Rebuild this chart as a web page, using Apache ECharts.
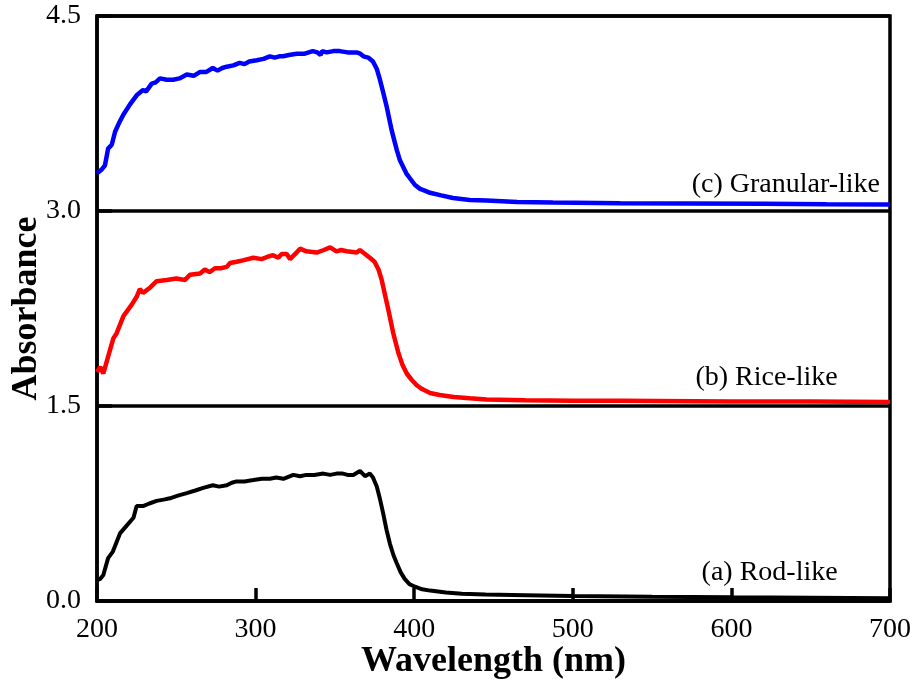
<!DOCTYPE html>
<html>
<head>
<meta charset="utf-8">
<script src="https://cdn.jsdelivr.net/npm/echarts@6/dist/echarts.min.js"></script>
<style>
	html, body { margin: 0; padding: 0; background: #fff; }
	#chart { width: 922px; height: 688px; }
</style>
</head>
<body>
<div id="chart"></div>
<script>
/* (a) Rod-like, plotted as is */
const rodLike = [
	[200, 0.16], [202, 0.17], [204, 0.20], [207, 0.33], [210, 0.38], [214.5, 0.52], [218.7, 0.58], [223, 0.64],
	[225, 0.73], [229, 0.73], [233, 0.75], [237.6, 0.77], [242, 0.78], [246, 0.79], [251, 0.81], [256.6, 0.83],
	[262, 0.85], [267, 0.87], [273, 0.89], [277, 0.88], [281.8, 0.89], [285, 0.91], [288, 0.92], [293, 0.92],
	[298.6, 0.93], [304, 0.94], [309, 0.94], [313, 0.95], [317.5, 0.94], [323.8, 0.97], [328, 0.96], [332, 0.97],
	[337, 0.97], [342.7, 0.98], [347, 0.97], [351, 0.98], [355, 0.98], [358, 0.97], [361.6, 0.97], [365.8, 1.00],
	[369, 0.96], [372, 0.98], [374, 0.95], [376.4, 0.88], [378.5, 0.78], [380.5, 0.67], [382.5, 0.55], [384.7, 0.44],
	[387, 0.35], [389, 0.29], [391.5, 0.22], [394, 0.17], [397, 0.13], [400.5, 0.11], [405, 0.09], [410, 0.08],
	[420, 0.065], [430, 0.055], [445, 0.05], [470, 0.045], [500, 0.038], [550, 0.032], [600, 0.028], [650, 0.025],
	[700, 0.022]
];
/* (b) Rice-like, shifted up by 1.5 in the figure */
const riceLike = [
	[200, 1.76], [202, 1.80], [204, 1.75], [207, 1.88], [210.3, 2.02], [212.4, 2.06], [216.6, 2.19], [221.9, 2.28],
	[225, 2.34], [227, 2.40], [229, 2.37], [233.4, 2.41], [237.6, 2.46], [244, 2.47], [250, 2.48], [255.5, 2.47],
	[258.6, 2.51], [265, 2.52], [268, 2.55], [271, 2.53], [274.4, 2.56], [278, 2.56], [281.8, 2.57], [283.9, 2.60],
	[288, 2.61], [292, 2.62], [298.6, 2.64], [303.8, 2.63], [308, 2.65], [311, 2.66], [314.3, 2.64], [316.5, 2.67],
	[319.6, 2.67], [321.7, 2.63], [325, 2.67], [328, 2.71], [332, 2.69], [338.5, 2.68], [343, 2.70], [347, 2.72],
	[351, 2.69], [354, 2.70], [357.4, 2.69], [363.7, 2.68], [365.8, 2.70], [370, 2.66], [373, 2.63], [375, 2.61],
	[377.5, 2.55], [379.5, 2.47], [381.5, 2.36], [383.7, 2.24], [386.8, 2.06], [390, 1.91], [392.5, 1.82], [395.3, 1.75],
	[398.5, 1.70], [401.6, 1.66], [405, 1.63], [410, 1.60], [416, 1.585], [425, 1.57], [435, 1.56], [445.7, 1.55],
	[470, 1.545], [500, 1.54], [530, 1.54], [600, 1.535], [650, 1.535], [700, 1.53]
];
/* (c) Granular-like, shifted up by 3.0 in the figure */
const granularLike = [
	[200, 3.29], [203, 3.32], [205, 3.35], [207, 3.48], [209.3, 3.51], [211.4, 3.61], [214, 3.68], [216.6, 3.74],
	[220.8, 3.82], [225, 3.89], [229, 3.93], [231, 3.92], [234.5, 3.98], [237, 3.99], [239.7, 4.02], [244, 4.01],
	[248, 4.01], [252, 4.02], [256.6, 4.05], [261, 4.04], [265, 4.07], [269, 4.07], [273, 4.10], [276, 4.08],
	[279, 4.10], [281.8, 4.11], [286, 4.12], [290, 4.14], [293, 4.13], [296, 4.15], [300.7, 4.16], [305, 4.17],
	[309, 4.19], [312, 4.18], [315, 4.19], [317.5, 4.19], [321, 4.20], [326, 4.21], [331, 4.21], [336, 4.23],
	[339, 4.22], [341, 4.20], [342, 4.23], [344.8, 4.22], [349, 4.23], [353, 4.23], [358, 4.22], [363.7, 4.22],
	[366, 4.21], [368, 4.19], [371, 4.18], [374, 4.15], [376.5, 4.09], [378.4, 4.01], [380.5, 3.91], [382.7, 3.80],
	[385.8, 3.62], [389, 3.47], [391, 3.39], [393, 3.34], [395, 3.29], [397.4, 3.25], [400.5, 3.20], [403.7, 3.17],
	[407, 3.155], [410, 3.14], [417, 3.12], [424.5, 3.10], [435, 3.085], [445.7, 3.08], [465, 3.07], [487.5, 3.065],
	[530, 3.06], [571.8, 3.058], [620, 3.055], [660, 3.052], [700, 3.05]
];
/* 曲线名称及标注位置 */
const curveNames = ['(a) Rod-like', '(b) Rice-like', '(c) Granular-like'];
const curveColors = ['#000000', '#ff0000', '#0000ff'];
const labelCoords = [[667, 0.22], [667, 1.715], [693.7, 3.2]];
const xTicks = [200, 700, 100];
const yTicks = [0, 4.5, 1.5];

const FONT = "'Liberation Serif', 'Times New Roman', serif";
const chart = echarts.init(document.getElementById('chart'));
const curves = [rodLike, riceLike, granularLike];

chart.setOption({
	animation: false,
	grid: {
		left: 97,
		right: 32,
		top: 16,
		bottom: 87,
		outerBoundsMode: 'none',
		containLabel: false,
		show: true,
		borderColor: '#000',
		borderWidth: 3.5,
		backgroundColor: 'transparent'
	},
	xAxis: {
		type: 'value',
		min: xTicks[0],
		max: xTicks[1],
		interval: xTicks[2],
		name: 'Wavelength (nm)',
		nameLocation: 'middle',
		nameGap: 43,
		nameMoveOverlap: false,
		nameTextStyle: { fontFamily: FONT, fontWeight: 'bold', fontSize: 36, color: '#000' },
		axisLine: { show: true, lineStyle: { color: '#000', width: 3.5 } },
		axisTick: { show: true, inside: true, length: 13, lineStyle: { color: '#000', width: 3.5 } },
		axisLabel: { fontFamily: FONT, fontSize: 28, color: '#000', margin: 15 },
		splitLine: { show: false }
	},
	yAxis: {
		type: 'value',
		min: yTicks[0],
		max: yTicks[1],
		interval: yTicks[2],
		name: 'Absorbance',
		nameLocation: 'middle',
		nameGap: 52,
		nameMoveOverlap: false,
		nameTextStyle: { fontFamily: FONT, fontWeight: 'bold', fontSize: 36, color: '#000' },
		axisLine: { show: true, lineStyle: { color: '#000', width: 3.5 } },
		axisTick: { show: true, inside: true, length: 15, lineStyle: { color: '#000', width: 3.5 } },
		axisLabel: {
			fontFamily: FONT,
			fontSize: 28,
			color: '#000',
			margin: 16,
			formatter: v => v.toFixed(1)
		},
		splitLine: { show: true, lineStyle: { color: '#000', width: 3.5, type: 'solid' } }
	},
	series: curves.map((data, i) => ({
		type: 'line',
		name: curveNames[i],
		data: data,
		showSymbol: false,
		smooth: false,
		z: 3,
		lineStyle: { color: curveColors[i], width: i === 0 ? 4 : 4.5 },
		itemStyle: { color: curveColors[i] },
		markPoint: {
			symbol: 'circle',
			symbolSize: 0,
			silent: true,
			data: [{ coord: labelCoords[i] }],
			label: {
				show: true,
				position: 'left',
				distance: 0,
				formatter: curveNames[i],
				fontFamily: FONT,
				fontSize: 28,
				color: '#000'
			}
		}
	}))
});
</script>
</body>
</html>
